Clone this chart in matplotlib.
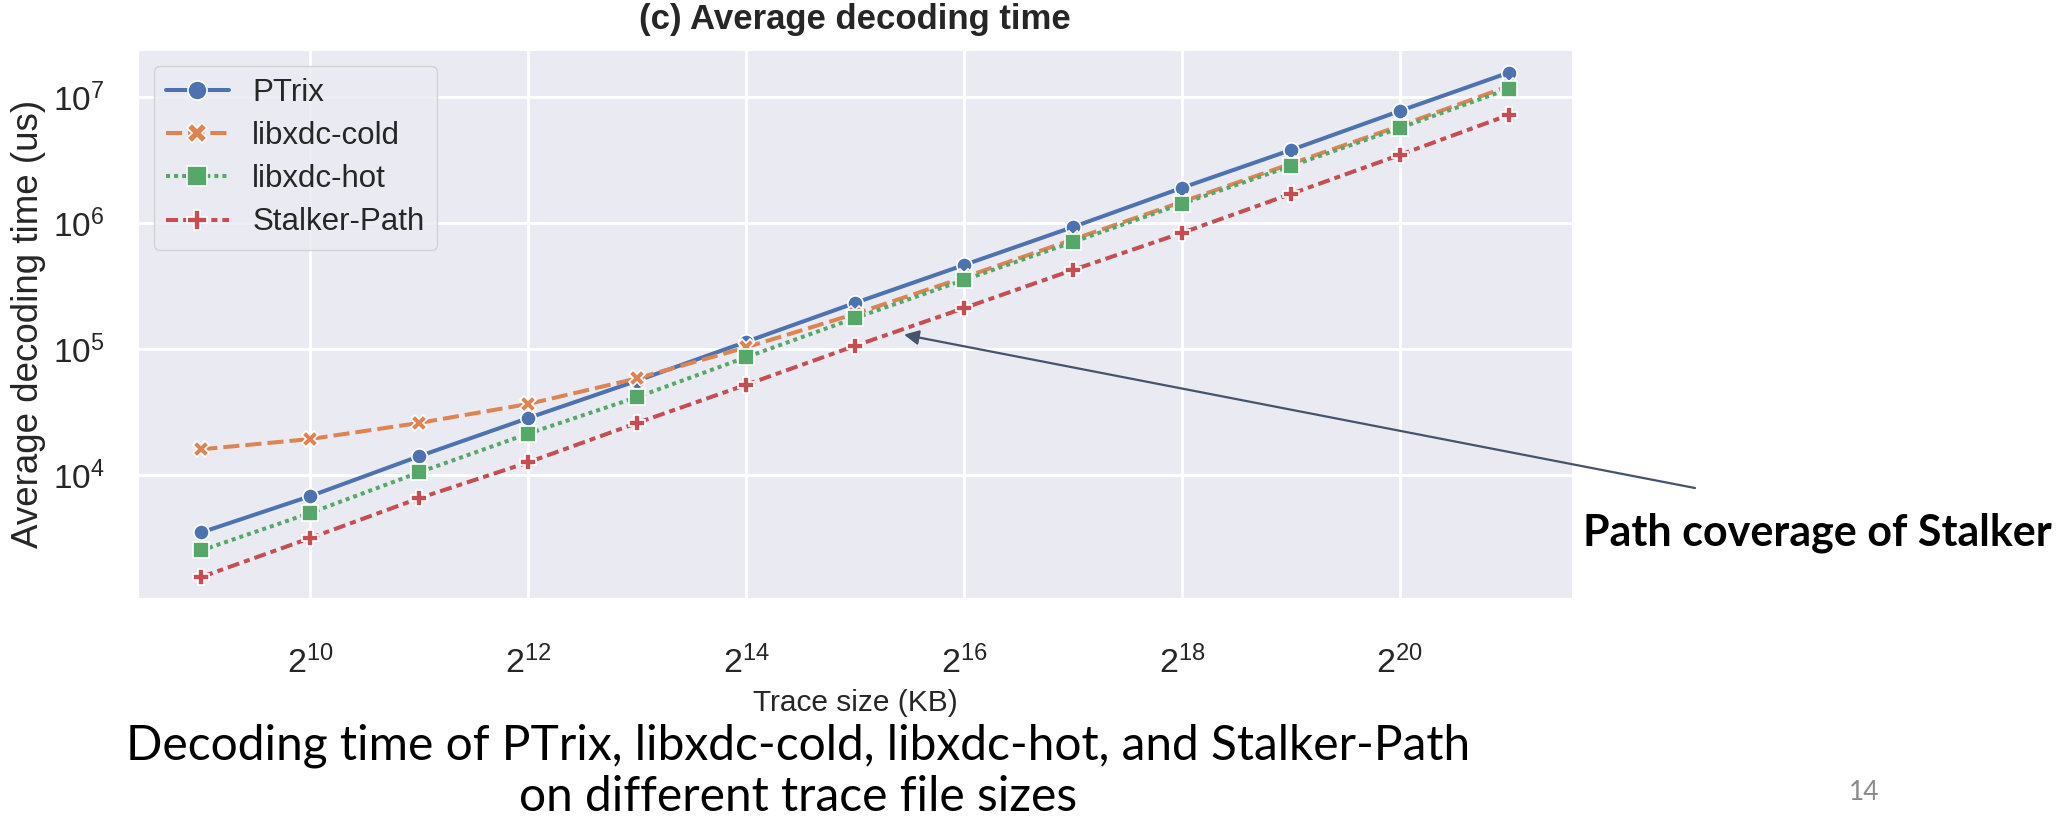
import matplotlib
matplotlib.use("Agg")
import matplotlib.pyplot as plt
import seaborn as sns
from matplotlib.ticker import FixedLocator, NullLocator, LogFormatterSciNotation

# data (trace size in KB, decoding time in us)
trace_kb = [512, 1024, 2048, 4096, 8192, 16384, 32768, 65536,
            131072, 262144, 524288, 1048576, 2097152]
ptrix = [3500, 6800, 14100, 28300, 56000, 114000, 232000, 464000,
         929000, 1.90e6, 3.79e6, 7.74e6, 15.6e6]
libxdc_cold = [16000, 19300, 25900, 36600, 58500, 103000, 190000, 370000,
               740000, 1.47e6, 2.95e6, 5.9e6, 12.2e6]
libxdc_hot = [2520, 5000, 10500, 21300, 41500, 86000, 176000, 353000,
              706000, 1.42e6, 2.83e6, 5.67e6, 11.6e6]
stalker_path = [1550, 3160, 6550, 12600, 25900, 52000, 106000, 211000,
                424000, 834000, 1.70e6, 3.47e6, 7.2e6]

x_ticks = [2**10, 2**12, 2**14, 2**16, 2**18, 2**20]
y_ticks = [1e4, 1e5, 1e6, 1e7]
arrow_at = (2**15.45, 1.3e5)

sns.set_style("darkgrid")
plt.rcParams['font.family'] = ['Liberation Sans', 'DejaVu Sans']

fig = plt.figure(figsize=(20.58, 8.22), dpi=100)
ax = fig.add_axes([0.0671, 0.2725, 0.6967, 0.6667])

pal = sns.color_palette("deep")
common = dict(lw=2.9, ms=11, mec="white", mew=1.2)
ax.plot(trace_kb, ptrix, "-", marker="o", color=pal[0], label="PTrix", **common)
ax.plot(trace_kb, libxdc_cold, marker="X", color=pal[1], dashes=(4, 1.5),
        label="libxdc-cold", **common)
ax.plot(trace_kb, libxdc_hot, marker="s", color=pal[2], dashes=(1, 1),
        label="libxdc-hot", **common)
ax.plot(trace_kb, stalker_path, marker="P", color=pal[3],
        dashes=(3, 1.25, 1.5, 1.25), label="Stalker-Path", **common)

ax.set_xscale("log", base=2)
ax.set_yscale("log")
ax.set_xlim(2**8.42, 2**21.58)
ax.set_ylim(10**3.024, 10**7.373)
ax.xaxis.set_major_locator(FixedLocator(x_ticks))
ax.xaxis.set_major_formatter(LogFormatterSciNotation(base=2))
ax.xaxis.set_minor_locator(NullLocator())
ax.yaxis.set_major_locator(FixedLocator(y_ticks))
ax.yaxis.set_minor_locator(NullLocator())
ax.grid(True, color="white", lw=2)
ax.tick_params(axis="both", length=0, colors="#262626")
ax.tick_params(axis="x", labelsize=24.5, pad=34)
ax.tick_params(axis="y", labelsize=24, pad=24)

ax.set_xlabel("Trace size (KB)", fontsize=21.5, color="#262626")
ax.xaxis.set_label_coords(0.5, -0.166)
ax.set_ylabel("Average decoding time (us)", fontsize=26.5, color="#262626")
ax.yaxis.set_label_coords(-0.064, 0.5)
ax.set_title("(c) Average decoding time", fontsize=25, fontweight="bold",
             color="#262626", pad=15)

ax.legend(loc="upper left", fontsize=22.5, labelspacing=0.42, handlelength=2.0,
          handletextpad=0.75, borderpad=0.4, markerscale=1.25)

# slide annotation
ax.annotate("", xy=arrow_at, xycoords="data",
            xytext=(0.8236, 0.4063), textcoords="figure fraction",
            arrowprops=dict(arrowstyle="-|>", color="#44546A", lw=1.6,
                            mutation_scale=22, shrinkA=0, shrinkB=0))
fig.text(0.7692, 0.352, "Path coverage of Stalker", family="Lato",
         fontweight="bold", fontsize=31, ha="left", va="center", color="black")

fig.text(0.388, 0.0925, "Decoding time of PTrix, libxdc-cold, libxdc-hot, and Stalker-Path",
         family="Lato", fontsize=34.5, ha="center", va="center", color="black")
fig.text(0.388, 0.031, "on different trace file sizes",
         family="Lato", fontsize=34.5, ha="center", va="center", color="black")
fig.text(0.906, 0.036, "14", family="Lato", fontsize=19, ha="center",
         va="center", color="#8a8a8a")

fig.savefig("out.png", dpi=100)
